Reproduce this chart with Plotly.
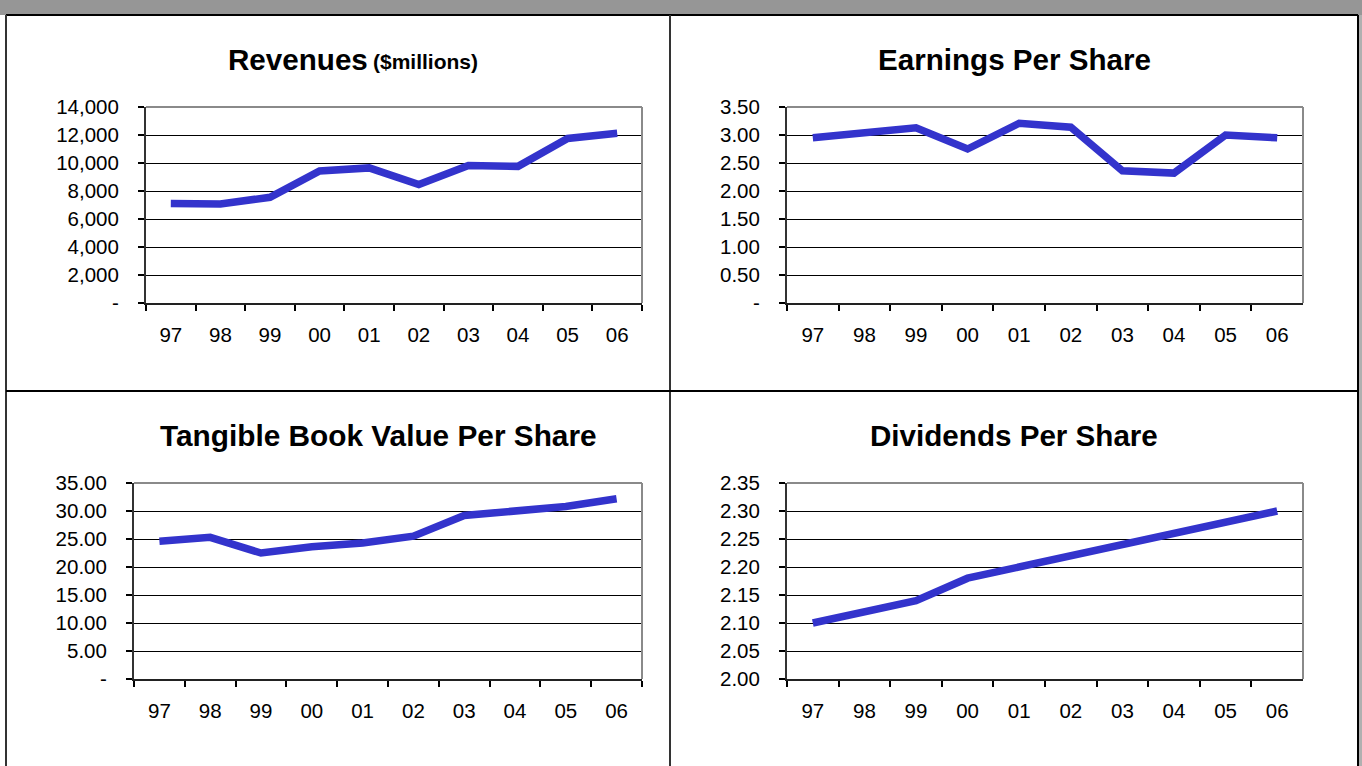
import plotly.graph_objects as go

years = ["97", "98", "99", "00", "01", "02", "03", "04", "05", "06"]
revenues = [7100, 7080, 7550, 9430, 9650, 8460, 9820, 9760, 11750, 12120]
eps = [2.95, 3.04, 3.13, 2.75, 3.21, 3.14, 2.36, 2.32, 3.00, 2.95]
tbv = [24.6, 25.3, 22.5, 23.6, 24.3, 25.5, 29.2, 29.9, 30.8, 32.2]
dps = [2.10, 2.12, 2.14, 2.18, 2.20, 2.22, 2.24, 2.26, 2.28, 2.30]

rev_ticks = [0, 2000, 4000, 6000, 8000, 10000, 12000, 14000]
rev_text = ["-", "2,000", "4,000", "6,000", "8,000", "10,000", "12,000", "14,000"]
eps_ticks = [0, 0.5, 1.0, 1.5, 2.0, 2.5, 3.0, 3.5]
eps_text = ["-", "0.50", "1.00", "1.50", "2.00", "2.50", "3.00", "3.50"]
tbv_ticks = [0, 5, 10, 15, 20, 25, 30, 35]
tbv_text = ["-", "5.00", "10.00", "15.00", "20.00", "25.00", "30.00", "35.00"]
dps_ticks = [2.00, 2.05, 2.10, 2.15, 2.20, 2.25, 2.30, 2.35]
dps_text = ["2.00", "2.05", "2.10", "2.15", "2.20", "2.25", "2.30", "2.35"]

W, H = 1362, 766
FONT = "Liberation Sans, Arial, sans-serif"
LINE = "#3333CC"
TICK = 20.5


def px(x):
    return x / W


def py(y):
    return 1 - y / H


panels = [
    # (values, ticks, text, range, x0, x1, y0, y1)
    (revenues, rev_ticks, rev_text, [0, 14000], 146, 642, 107, 303),
    (eps, eps_ticks, eps_text, [0, 3.5], 787, 1303, 107, 303),
    (tbv, tbv_ticks, tbv_text, [0, 35], 134, 642, 483, 679),
    (dps, dps_ticks, dps_text, [2.0, 2.35], 787, 1303, 483, 679),
]

fig = go.Figure()
layout = dict(
    template="none",
    width=W, height=H, autosize=False, margin=dict(l=0, r=0, t=0, b=0, pad=0),
    paper_bgcolor="white", plot_bgcolor="white", showlegend=False,
    font=dict(family=FONT, size=TICK, color="black"),
)
shapes = []
for i, (vals, tv, tt, rng, x0, x1, y0, y1) in enumerate(panels, start=1):
    sfx = "" if i == 1 else str(i)
    fig.add_trace(go.Scatter(
        x=years, y=vals, mode="lines",
        line=dict(color=LINE, width=7.5),
        xaxis="x" + sfx, yaxis="y" + sfx, hoverinfo="skip",
    ))
    layout["xaxis" + sfx] = dict(
        domain=[px(x0), px(x1)], anchor="y" + sfx, type="category",
        categoryorder="array", categoryarray=years, automargin=False,
        range=[-0.5, 9.5], tickson="boundaries", ticks="outside",
        ticklen=6, tickwidth=1.5, tickcolor="black",
        showline=True, linecolor="#222222", linewidth=2,
        showgrid=False, zeroline=False, ticklabelstandoff=12,
        tickfont=dict(family=FONT, size=TICK, color="black"),
        fixedrange=True,
    )
    layout["yaxis" + sfx] = dict(
        domain=[py(y1), py(y0)], anchor="x" + sfx, range=rng,
        automargin=False,
        tickvals=tv, ticktext=tt, ticks="outside", ticklen=6,
        tickwidth=1.5, tickcolor="black",
        showline=True, linecolor="#333333", linewidth=2,
        showgrid=True, gridcolor="black", gridwidth=1, zeroline=False,
        ticklabelstandoff=15,
        tickfont=dict(family=FONT, size=TICK, color="black"),
        fixedrange=True,
    )
    # gray top and right frame of plot area
    shapes.append(dict(type="line", xref="paper", yref="paper",
                       x0=px(x0), x1=px(x1), y0=py(y0), y1=py(y0),
                       line=dict(color="#8a8a8a", width=2)))
    shapes.append(dict(type="line", xref="paper", yref="paper",
                       x0=px(x1), x1=px(x1), y0=py(y0), y1=py(y1),
                       line=dict(color="#8a8a8a", width=2)))

# outer frame
shapes.append(dict(type="rect", xref="paper", yref="paper",
                   x0=0, x1=1, y0=py(15), y1=1,
                   fillcolor="#969696", line=dict(width=0), layer="below"))
shapes.append(dict(type="rect", xref="paper", yref="paper",
                   x0=px(1359), x1=1, y0=0, y1=py(15),
                   fillcolor="#b0b0b0", line=dict(width=0), layer="below"))
shapes.append(dict(type="line", xref="paper", yref="paper",
                   x0=px(6), x1=px(1358), y0=py(15), y1=py(15),
                   line=dict(color="black", width=2)))
shapes.append(dict(type="line", xref="paper", yref="paper",
                   x0=px(6), x1=px(6), y0=0, y1=py(15),
                   line=dict(color="#333333", width=2)))
shapes.append(dict(type="line", xref="paper", yref="paper",
                   x0=px(1358), x1=px(1358), y0=0, y1=py(15),
                   line=dict(color="black", width=2)))
shapes.append(dict(type="line", xref="paper", yref="paper",
                   x0=px(670), x1=px(670), y0=0, y1=py(15),
                   line=dict(color="#333333", width=2)))
shapes.append(dict(type="line", xref="paper", yref="paper",
                   x0=px(6), x1=px(1358), y0=py(391), y1=py(391),
                   line=dict(color="black", width=2)))
layout["shapes"] = shapes

ann = []


def title(text, x, y, size, anchor="center"):
    ann.append(dict(text="<b>" + text + "</b>", xref="paper", yref="paper",
                    x=px(x), y=py(y), xanchor=anchor, yanchor="middle",
                    showarrow=False,
                    font=dict(family=FONT, size=size, color="black")))


title("Revenues", 226, 59, 29.6, "left")
title("($millions)", 371, 62, 21, "left")
title("Earnings Per Share", 1014, 59, 29.6)
title("Tangible Book Value Per Share", 378, 435, 29.8)
title("Dividends Per Share", 1014, 435, 29.6)
layout["annotations"] = ann

fig.update_layout(**layout)
fig.write_html(
    "out.html",
    config={"displayModeBar": False, "responsive": False},
    post_script=(
        "document.body.style.margin='0';"
        "document.body.style.overflow='hidden';"
    ),
)
